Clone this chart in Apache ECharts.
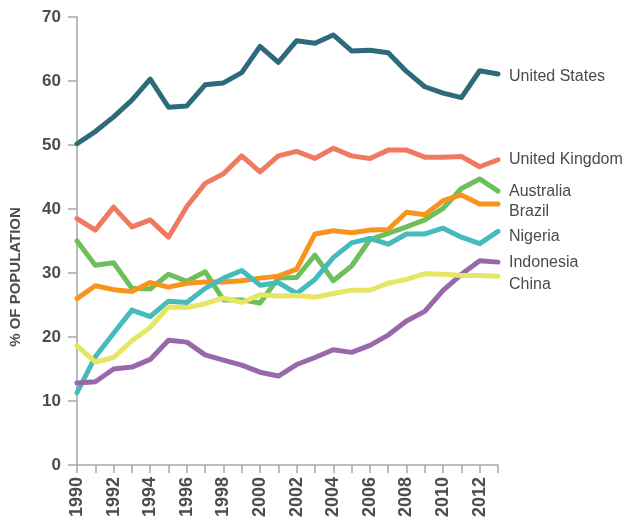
<!DOCTYPE html>
<html>
<head>
<meta charset="utf-8">
<script src="https://cdn.jsdelivr.net/npm/echarts@6/dist/echarts.min.js"></script>
<style>html,body{margin:0;padding:0;background:#fff;}#chart{width:626px;height:525px;}</style>
</head>
<body>
<div id="chart"></div>
<script>
const years = ['1990','1991','1992','1993','1994','1995','1996','1997','1998','1999','2000','2001','2002','2003','2004','2005','2006','2007','2008','2009','2010','2011','2012','2013'];
const unitedStates = [50.2,52.1,54.4,57.0,60.3,55.9,56.1,59.4,59.7,61.3,65.4,62.9,66.3,65.9,67.2,64.7,64.8,64.4,61.5,59.1,58.1,57.4,61.6,61.1];
const unitedKingdom = [38.5,36.7,40.3,37.2,38.3,35.6,40.4,44.0,45.5,48.3,45.8,48.3,49.0,47.9,49.5,48.3,47.9,49.2,49.2,48.1,48.1,48.2,46.6,47.7];
const australia = [35.0,31.2,31.6,27.6,27.5,29.8,28.7,30.2,25.8,25.8,25.3,29.2,29.3,32.8,28.8,31.1,35.2,36.2,37.2,38.3,40.1,43.2,44.7,42.8];
const brazil = [26.0,28.0,27.4,27.1,28.5,27.8,28.4,28.6,28.6,28.8,29.2,29.5,30.6,36.1,36.6,36.3,36.7,36.8,39.5,39.1,41.3,42.2,40.8,40.8];
const nigeria = [11.3,16.9,20.6,24.2,23.2,25.6,25.4,27.6,29.2,30.4,28.1,28.5,26.8,29.0,32.4,34.7,35.4,34.5,36.1,36.1,37.0,35.6,34.6,36.5];
const indonesia = [12.8,13.0,15.0,15.3,16.5,19.5,19.2,17.2,16.4,15.6,14.5,13.9,15.7,16.8,18.0,17.6,18.7,20.3,22.5,24.0,27.3,29.8,31.9,31.7];
const china = [18.6,16.1,16.8,19.4,21.5,24.7,24.6,25.2,26.1,25.4,26.6,26.4,26.5,26.2,26.8,27.3,27.3,28.4,29.0,29.9,29.8,29.6,29.6,29.5];
const yTicks = [0,10,20,30,40,50,60,70];

const seriesDefs = [
  {name:'United States', data:unitedStates, color:'#2d6a7b', dy:3},
  {name:'United Kingdom', data:unitedKingdom, color:'#f07a61', dy:0},
  {name:'Australia', data:australia, color:'#6cbf5b', dy:1},
  {name:'Brazil', data:brazil, color:'#f7941e', dy:8},
  {name:'Nigeria', data:nigeria, color:'#45bbbb', dy:5},
  {name:'Indonesia', data:indonesia, color:'#9868ab', dy:0},
  {name:'China', data:china, color:'#e6e565', dy:8}
];

const chart = echarts.init(document.getElementById('chart'), null, {renderer:'canvas'});
chart.setOption({
  animation:false,
  grid:{left:77, right:128, top:17, bottom:60, containLabel:false},
  xAxis:{
    type:'category', data:years, boundaryGap:false,
    axisLine:{lineStyle:{color:'#a6a6a6', width:1.5}},
    axisTick:{show:true, interval:0, length:8, lineStyle:{color:'#a6a6a6', width:1.5}},
    axisLabel:{interval:1, rotate:90, margin:12, color:'#4d4d4d', fontFamily:'Liberation Sans, Arial, sans-serif', fontWeight:'bold', fontSize:18},
    splitLine:{show:false}
  },
  yAxis:{
    type:'value', min:0, max:70, interval:10,
    axisLine:{show:true, lineStyle:{color:'#a6a6a6', width:1.5}},
    axisTick:{show:true, length:9, lineStyle:{color:'#a6a6a6', width:1.5}},
    axisLabel:{margin:16, color:'#4d4d4d', fontFamily:'Liberation Sans, Arial, sans-serif', fontWeight:'bold', fontSize:17,
      formatter:function(v){return yTicks.indexOf(v)>=0 ? String(v) : '';}},
    splitLine:{show:false}
  },
  graphic:[{
    type:'text', x:16, y:277, rotation:Math.PI/2,
    style:{text:'% OF POPULATION', fill:'#4d4d4d', font:'bold 15px "Liberation Sans", Arial, sans-serif', align:'center', verticalAlign:'middle'}
  }],
  series: seriesDefs.map(function(s){
    return {
      name:s.name, type:'line', data:s.data, showSymbol:false, symbol:'none',
      lineStyle:{color:s.color, width:5, cap:'round', join:'round'},
      itemStyle:{color:s.color},
      endLabel:{show:true, formatter:s.name, distance:11, offset:[0,s.dy], color:'#4a4a4a',
        fontFamily:'Liberation Sans, Arial, sans-serif', fontSize:16},
      emphasis:{disabled:true}
    };
  })
});
</script>
</body>
</html>
